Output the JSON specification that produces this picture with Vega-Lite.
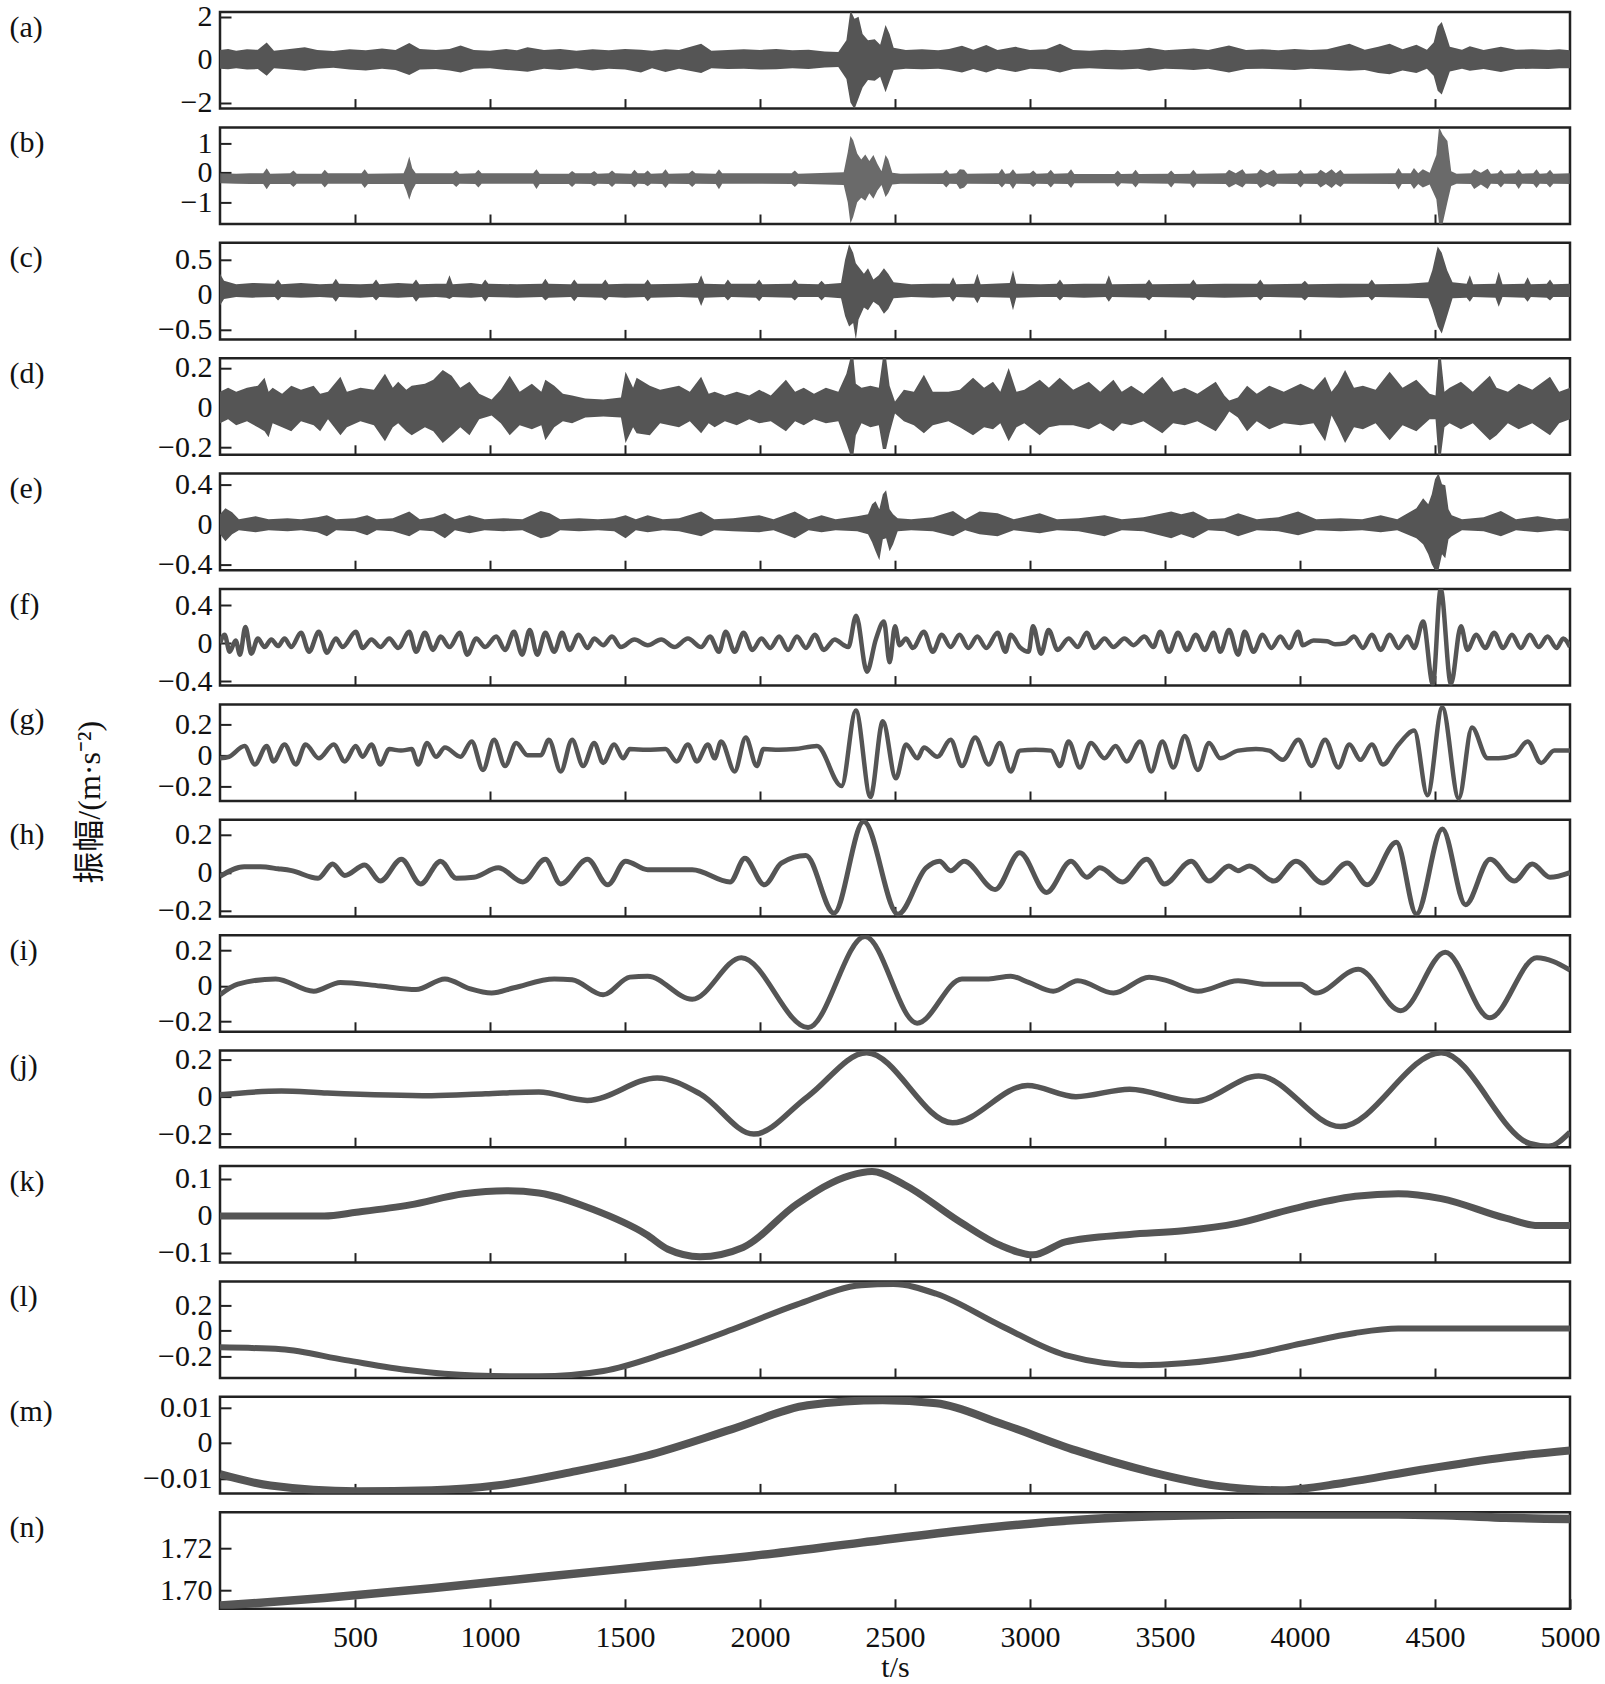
{
"$schema":"https://vega.github.io/schema/vega-lite/v6.json",
"background":"white",
"padding":{"left":7,"top":0,"right":4,"bottom":0},
"title":{"text":"振幅/(m·s⁻²)","orient":"left","anchor":"middle","angle":270,"baseline":"bottom","offset":-131,"dx":40,"font":"Liberation Serif, Noto Sans CJK SC","fontSize":32,"fontWeight":"normal","color":"#111"},
"config":{
"view":{"stroke":"#222","strokeWidth":2.5},
"axis":{"labelFont":"Liberation Serif","labelFontSize":30,"labelColor":"#111","tickColor":"#222","tickWidth":2,"domain":false,"grid":false,"labelOverlap":false,"labelFlush":false,"titleFont":"Liberation Serif","titleFontSize":30,"titleFontWeight":"normal","titleColor":"#111"},
"axisY":{"tickSize":-11,"labelPadding":19,"format":".2~f","titleAngle":0,"titleX":-211,"titleY":24,"titleAlign":"left","titleBaseline":"alphabetic"},
"axisX":{"tickSize":-10,"labelPadding":24,"format":"d"}
},
"spacing":18.4,
"bounds":"flush",
"datasets":{
"a":[{"t":0,"lo":-0.42,"hi":0.45},{"t":30,"lo":-0.45,"hi":0.5},{"t":60,"lo":-0.4,"hi":0.42},{"t":100,"lo":-0.46,"hi":0.48},{"t":140,"lo":-0.44,"hi":0.46},{"t":173,"lo":-0.75,"hi":0.8},{"t":200,"lo":-0.4,"hi":0.42},{"t":250,"lo":-0.45,"hi":0.48},{"t":314,"lo":-0.52,"hi":0.58},{"t":360,"lo":-0.42,"hi":0.45},{"t":420,"lo":-0.38,"hi":0.4},{"t":480,"lo":-0.46,"hi":0.48},{"t":540,"lo":-0.5,"hi":0.44},{"t":600,"lo":-0.42,"hi":0.52},{"t":650,"lo":-0.48,"hi":0.45},{"t":701,"lo":-0.72,"hi":0.78},{"t":740,"lo":-0.46,"hi":0.5},{"t":800,"lo":-0.44,"hi":0.45},{"t":850,"lo":-0.5,"hi":0.5},{"t":891,"lo":-0.6,"hi":0.66},{"t":940,"lo":-0.42,"hi":0.45},{"t":1000,"lo":-0.4,"hi":0.42},{"t":1060,"lo":-0.48,"hi":0.5},{"t":1100,"lo":-0.52,"hi":0.44},{"t":1139,"lo":-0.56,"hi":0.58},{"t":1200,"lo":-0.42,"hi":0.45},{"t":1260,"lo":-0.48,"hi":0.5},{"t":1320,"lo":-0.4,"hi":0.42},{"t":1380,"lo":-0.5,"hi":0.48},{"t":1440,"lo":-0.42,"hi":0.44},{"t":1500,"lo":-0.46,"hi":0.5},{"t":1559,"lo":-0.6,"hi":0.46},{"t":1600,"lo":-0.4,"hi":0.42},{"t":1650,"lo":-0.58,"hi":0.48},{"t":1700,"lo":-0.42,"hi":0.45},{"t":1782,"lo":-0.62,"hi":0.74},{"t":1820,"lo":-0.4,"hi":0.42},{"t":1880,"lo":-0.44,"hi":0.45},{"t":1940,"lo":-0.42,"hi":0.48},{"t":2000,"lo":-0.46,"hi":0.45},{"t":2060,"lo":-0.45,"hi":0.5},{"t":2120,"lo":-0.4,"hi":0.44},{"t":2180,"lo":-0.44,"hi":0.46},{"t":2240,"lo":-0.36,"hi":0.38},{"t":2290,"lo":-0.34,"hi":0.36},{"t":2320,"lo":-0.9,"hi":0.9},{"t":2335,"lo":-2.0,"hi":2.3},{"t":2350,"lo":-2.3,"hi":1.9},{"t":2365,"lo":-1.8,"hi":2.0},{"t":2380,"lo":-1.3,"hi":1.2},{"t":2400,"lo":-0.95,"hi":0.9},{"t":2425,"lo":-0.98,"hi":0.95},{"t":2445,"lo":-0.8,"hi":0.7},{"t":2465,"lo":-1.52,"hi":1.62},{"t":2480,"lo":-1.0,"hi":1.2},{"t":2495,"lo":-0.48,"hi":0.55},{"t":2540,"lo":-0.42,"hi":0.45},{"t":2600,"lo":-0.45,"hi":0.48},{"t":2660,"lo":-0.42,"hi":0.44},{"t":2700,"lo":-0.48,"hi":0.5},{"t":2748,"lo":-0.6,"hi":0.65},{"t":2790,"lo":-0.44,"hi":0.46},{"t":2838,"lo":-0.6,"hi":0.68},{"t":2880,"lo":-0.42,"hi":0.45},{"t":2946,"lo":-0.58,"hi":0.6},{"t":3000,"lo":-0.42,"hi":0.45},{"t":3060,"lo":-0.46,"hi":0.48},{"t":3111,"lo":-0.6,"hi":0.74},{"t":3160,"lo":-0.44,"hi":0.45},{"t":3220,"lo":-0.4,"hi":0.42},{"t":3280,"lo":-0.44,"hi":0.46},{"t":3340,"lo":-0.46,"hi":0.44},{"t":3400,"lo":-0.42,"hi":0.48},{"t":3441,"lo":-0.52,"hi":0.56},{"t":3500,"lo":-0.42,"hi":0.44},{"t":3560,"lo":-0.45,"hi":0.48},{"t":3606,"lo":-0.48,"hi":0.52},{"t":3660,"lo":-0.42,"hi":0.45},{"t":3737,"lo":-0.6,"hi":0.66},{"t":3800,"lo":-0.44,"hi":0.45},{"t":3860,"lo":-0.42,"hi":0.48},{"t":3920,"lo":-0.45,"hi":0.44},{"t":3980,"lo":-0.48,"hi":0.5},{"t":4040,"lo":-0.42,"hi":0.45},{"t":4100,"lo":-0.46,"hi":0.48},{"t":4183,"lo":-0.52,"hi":0.74},{"t":4240,"lo":-0.48,"hi":0.46},{"t":4290,"lo":-0.62,"hi":0.6},{"t":4332,"lo":-0.68,"hi":0.74},{"t":4380,"lo":-0.5,"hi":0.48},{"t":4431,"lo":-0.62,"hi":0.7},{"t":4470,"lo":-0.42,"hi":0.46},{"t":4495,"lo":-0.75,"hi":0.8},{"t":4510,"lo":-1.45,"hi":1.55},{"t":4525,"lo":-1.62,"hi":1.75},{"t":4540,"lo":-1.1,"hi":1.2},{"t":4555,"lo":-0.55,"hi":0.6},{"t":4600,"lo":-0.42,"hi":0.46},{"t":4629,"lo":-0.52,"hi":0.62},{"t":4680,"lo":-0.44,"hi":0.45},{"t":4744,"lo":-0.58,"hi":0.6},{"t":4800,"lo":-0.44,"hi":0.46},{"t":4860,"lo":-0.42,"hi":0.48},{"t":4920,"lo":-0.44,"hi":0.45},{"t":4960,"lo":-0.4,"hi":0.48},{"t":5000,"lo":-0.4,"hi":0.44}],
"b":[{"t":0,"lo":-0.36,"hi":-0.02},{"t":60,"lo":-0.37,"hi":-0.03},{"t":110,"lo":-0.38,"hi":-0.02},{"t":160,"lo":-0.38,"hi":-0.02},{"t":173,"lo":-0.56,"hi":0.15},{"t":186,"lo":-0.38,"hi":-0.03},{"t":260,"lo":-0.38,"hi":-0.02},{"t":272,"lo":-0.48,"hi":0.08},{"t":284,"lo":-0.37,"hi":-0.03},{"t":376,"lo":-0.37,"hi":-0.03},{"t":388,"lo":-0.5,"hi":0.1},{"t":400,"lo":-0.37,"hi":-0.02},{"t":524,"lo":-0.37,"hi":-0.02},{"t":536,"lo":-0.52,"hi":0.12},{"t":548,"lo":-0.38,"hi":-0.03},{"t":680,"lo":-0.38,"hi":-0.02},{"t":690,"lo":-0.6,"hi":0.2},{"t":701,"lo":-0.92,"hi":0.55},{"t":712,"lo":-0.6,"hi":0.15},{"t":725,"lo":-0.38,"hi":-0.02},{"t":863,"lo":-0.38,"hi":-0.02},{"t":875,"lo":-0.48,"hi":0.08},{"t":887,"lo":-0.37,"hi":-0.03},{"t":945,"lo":-0.38,"hi":-0.02},{"t":957,"lo":-0.5,"hi":0.1},{"t":969,"lo":-0.37,"hi":-0.02},{"t":1160,"lo":-0.37,"hi":-0.02},{"t":1172,"lo":-0.55,"hi":0.12},{"t":1184,"lo":-0.38,"hi":-0.03},{"t":1292,"lo":-0.38,"hi":-0.03},{"t":1304,"lo":-0.48,"hi":0.06},{"t":1316,"lo":-0.37,"hi":-0.02},{"t":1374,"lo":-0.38,"hi":-0.02},{"t":1386,"lo":-0.46,"hi":0.06},{"t":1398,"lo":-0.37,"hi":-0.03},{"t":1440,"lo":-0.38,"hi":-0.02},{"t":1452,"lo":-0.48,"hi":0.08},{"t":1464,"lo":-0.37,"hi":-0.02},{"t":1523,"lo":-0.38,"hi":-0.03},{"t":1535,"lo":-0.5,"hi":0.1},{"t":1547,"lo":-0.37,"hi":-0.02},{"t":1572,"lo":-0.38,"hi":-0.02},{"t":1584,"lo":-0.46,"hi":0.08},{"t":1596,"lo":-0.37,"hi":-0.03},{"t":1638,"lo":-0.38,"hi":-0.02},{"t":1650,"lo":-0.52,"hi":0.12},{"t":1662,"lo":-0.37,"hi":-0.03},{"t":1737,"lo":-0.38,"hi":-0.02},{"t":1749,"lo":-0.48,"hi":0.08},{"t":1761,"lo":-0.37,"hi":-0.02},{"t":1836,"lo":-0.38,"hi":-0.03},{"t":1848,"lo":-0.56,"hi":0.12},{"t":1860,"lo":-0.37,"hi":-0.02},{"t":2117,"lo":-0.38,"hi":-0.02},{"t":2129,"lo":-0.48,"hi":0.08},{"t":2141,"lo":-0.37,"hi":-0.03},{"t":2310,"lo":-0.42,"hi":0.02},{"t":2325,"lo":-1.0,"hi":0.7},{"t":2335,"lo":-1.72,"hi":1.25},{"t":2345,"lo":-1.5,"hi":1.1},{"t":2360,"lo":-1.0,"hi":0.65},{"t":2375,"lo":-0.85,"hi":0.45},{"t":2390,"lo":-0.95,"hi":0.62},{"t":2405,"lo":-0.7,"hi":0.4},{"t":2420,"lo":-0.88,"hi":0.6},{"t":2435,"lo":-0.6,"hi":0.3},{"t":2450,"lo":-0.42,"hi":0.05},{"t":2465,"lo":-0.82,"hi":0.6},{"t":2475,"lo":-0.7,"hi":0.45},{"t":2490,"lo":-0.4,"hi":0.0},{"t":2520,"lo":-0.37,"hi":-0.03},{"t":2678,"lo":-0.38,"hi":-0.02},{"t":2690,"lo":-0.5,"hi":0.1},{"t":2702,"lo":-0.37,"hi":-0.03},{"t":2728,"lo":-0.38,"hi":-0.02},{"t":2740,"lo":-0.55,"hi":0.12},{"t":2756,"lo":-0.5,"hi":0.1},{"t":2768,"lo":-0.37,"hi":-0.03},{"t":2884,"lo":-0.38,"hi":-0.02},{"t":2896,"lo":-0.5,"hi":0.14},{"t":2908,"lo":-0.37,"hi":-0.03},{"t":2925,"lo":-0.38,"hi":-0.02},{"t":2937,"lo":-0.55,"hi":0.12},{"t":2949,"lo":-0.37,"hi":-0.03},{"t":3000,"lo":-0.38,"hi":-0.02},{"t":3012,"lo":-0.48,"hi":0.08},{"t":3024,"lo":-0.37,"hi":-0.03},{"t":3065,"lo":-0.38,"hi":-0.02},{"t":3077,"lo":-0.5,"hi":0.1},{"t":3089,"lo":-0.37,"hi":-0.03},{"t":3140,"lo":-0.38,"hi":-0.02},{"t":3152,"lo":-0.52,"hi":0.12},{"t":3164,"lo":-0.36,"hi":-0.04},{"t":3313,"lo":-0.36,"hi":-0.04},{"t":3325,"lo":-0.48,"hi":0.08},{"t":3337,"lo":-0.36,"hi":-0.04},{"t":3379,"lo":-0.37,"hi":-0.03},{"t":3391,"lo":-0.5,"hi":0.1},{"t":3403,"lo":-0.36,"hi":-0.04},{"t":3511,"lo":-0.37,"hi":-0.03},{"t":3523,"lo":-0.5,"hi":0.08},{"t":3535,"lo":-0.36,"hi":-0.04},{"t":3593,"lo":-0.37,"hi":-0.03},{"t":3605,"lo":-0.52,"hi":0.1},{"t":3617,"lo":-0.37,"hi":-0.03},{"t":3725,"lo":-0.38,"hi":-0.02},{"t":3737,"lo":-0.5,"hi":0.1},{"t":3762,"lo":-0.38,"hi":-0.02},{"t":3787,"lo":-0.5,"hi":0.12},{"t":3799,"lo":-0.37,"hi":-0.03},{"t":3841,"lo":-0.38,"hi":-0.02},{"t":3853,"lo":-0.52,"hi":0.12},{"t":3878,"lo":-0.38,"hi":-0.02},{"t":3903,"lo":-0.48,"hi":0.1},{"t":3915,"lo":-0.37,"hi":-0.03},{"t":3990,"lo":-0.38,"hi":-0.02},{"t":4002,"lo":-0.5,"hi":0.1},{"t":4014,"lo":-0.37,"hi":-0.03},{"t":4064,"lo":-0.38,"hi":-0.02},{"t":4076,"lo":-0.5,"hi":0.1},{"t":4096,"lo":-0.38,"hi":-0.02},{"t":4117,"lo":-0.52,"hi":0.12},{"t":4133,"lo":-0.38,"hi":-0.02},{"t":4150,"lo":-0.48,"hi":0.1},{"t":4162,"lo":-0.37,"hi":-0.03},{"t":4353,"lo":-0.38,"hi":-0.02},{"t":4365,"lo":-0.57,"hi":0.16},{"t":4377,"lo":-0.38,"hi":-0.02},{"t":4410,"lo":-0.38,"hi":-0.02},{"t":4422,"lo":-0.55,"hi":0.16},{"t":4438,"lo":-0.38,"hi":-0.02},{"t":4455,"lo":-0.5,"hi":0.12},{"t":4480,"lo":-0.4,"hi":0.0},{"t":4505,"lo":-0.9,"hi":0.6},{"t":4515,"lo":-1.74,"hi":1.55},{"t":4528,"lo":-1.74,"hi":1.3},{"t":4546,"lo":-1.0,"hi":1.08},{"t":4560,"lo":-0.45,"hi":0.05},{"t":4580,"lo":-0.37,"hi":-0.03},{"t":4633,"lo":-0.38,"hi":-0.02},{"t":4645,"lo":-0.55,"hi":0.12},{"t":4670,"lo":-0.4,"hi":0.0},{"t":4695,"lo":-0.55,"hi":0.14},{"t":4707,"lo":-0.37,"hi":-0.03},{"t":4732,"lo":-0.38,"hi":-0.02},{"t":4744,"lo":-0.5,"hi":0.1},{"t":4756,"lo":-0.37,"hi":-0.03},{"t":4798,"lo":-0.38,"hi":-0.02},{"t":4810,"lo":-0.55,"hi":0.12},{"t":4822,"lo":-0.37,"hi":-0.03},{"t":4864,"lo":-0.38,"hi":-0.02},{"t":4876,"lo":-0.52,"hi":0.12},{"t":4888,"lo":-0.37,"hi":-0.03},{"t":4914,"lo":-0.38,"hi":-0.02},{"t":4926,"lo":-0.5,"hi":0.1},{"t":4938,"lo":-0.37,"hi":-0.03},{"t":5000,"lo":-0.38,"hi":-0.02}],
"c":[{"t":0,"lo":-0.15,"hi":0.3},{"t":15,"lo":-0.06,"hi":0.2},{"t":60,"lo":-0.03,"hi":0.15},{"t":120,"lo":-0.04,"hi":0.17},{"t":203,"lo":-0.03,"hi":0.16},{"t":215,"lo":-0.08,"hi":0.22},{"t":227,"lo":-0.03,"hi":0.15},{"t":300,"lo":-0.04,"hi":0.17},{"t":370,"lo":-0.03,"hi":0.15},{"t":417,"lo":-0.04,"hi":0.16},{"t":429,"lo":-0.1,"hi":0.23},{"t":441,"lo":-0.03,"hi":0.16},{"t":520,"lo":-0.04,"hi":0.15},{"t":566,"lo":-0.03,"hi":0.16},{"t":578,"lo":-0.08,"hi":0.22},{"t":590,"lo":-0.03,"hi":0.15},{"t":660,"lo":-0.04,"hi":0.17},{"t":714,"lo":-0.03,"hi":0.16},{"t":726,"lo":-0.1,"hi":0.22},{"t":738,"lo":-0.04,"hi":0.15},{"t":800,"lo":-0.03,"hi":0.16},{"t":838,"lo":-0.04,"hi":0.16},{"t":850,"lo":-0.06,"hi":0.28},{"t":862,"lo":-0.03,"hi":0.15},{"t":930,"lo":-0.04,"hi":0.17},{"t":970,"lo":-0.03,"hi":0.15},{"t":982,"lo":-0.1,"hi":0.22},{"t":994,"lo":-0.03,"hi":0.16},{"t":1100,"lo":-0.04,"hi":0.15},{"t":1193,"lo":-0.03,"hi":0.16},{"t":1205,"lo":-0.08,"hi":0.23},{"t":1217,"lo":-0.04,"hi":0.16},{"t":1300,"lo":-0.03,"hi":0.15},{"t":1312,"lo":-0.09,"hi":0.22},{"t":1324,"lo":-0.03,"hi":0.16},{"t":1415,"lo":-0.04,"hi":0.16},{"t":1427,"lo":-0.08,"hi":0.22},{"t":1439,"lo":-0.03,"hi":0.15},{"t":1500,"lo":-0.04,"hi":0.16},{"t":1572,"lo":-0.03,"hi":0.16},{"t":1584,"lo":-0.09,"hi":0.22},{"t":1596,"lo":-0.04,"hi":0.15},{"t":1700,"lo":-0.03,"hi":0.16},{"t":1770,"lo":-0.04,"hi":0.17},{"t":1782,"lo":-0.16,"hi":0.28},{"t":1794,"lo":-0.04,"hi":0.16},{"t":1869,"lo":-0.03,"hi":0.15},{"t":1881,"lo":-0.08,"hi":0.22},{"t":1893,"lo":-0.03,"hi":0.16},{"t":1985,"lo":-0.04,"hi":0.16},{"t":1997,"lo":-0.09,"hi":0.22},{"t":2009,"lo":-0.03,"hi":0.15},{"t":2117,"lo":-0.04,"hi":0.16},{"t":2129,"lo":-0.08,"hi":0.22},{"t":2141,"lo":-0.03,"hi":0.16},{"t":2216,"lo":-0.03,"hi":0.15},{"t":2228,"lo":-0.08,"hi":0.2},{"t":2240,"lo":-0.03,"hi":0.15},{"t":2300,"lo":-0.05,"hi":0.17},{"t":2315,"lo":-0.3,"hi":0.5},{"t":2330,"lo":-0.45,"hi":0.72},{"t":2345,"lo":-0.4,"hi":0.6},{"t":2355,"lo":-0.64,"hi":0.45},{"t":2365,"lo":-0.35,"hi":0.4},{"t":2385,"lo":-0.18,"hi":0.3},{"t":2400,"lo":-0.22,"hi":0.38},{"t":2420,"lo":-0.1,"hi":0.22},{"t":2440,"lo":-0.15,"hi":0.28},{"t":2459,"lo":-0.27,"hi":0.38},{"t":2475,"lo":-0.2,"hi":0.3},{"t":2495,"lo":-0.05,"hi":0.18},{"t":2560,"lo":-0.03,"hi":0.15},{"t":2640,"lo":-0.04,"hi":0.16},{"t":2703,"lo":-0.03,"hi":0.16},{"t":2715,"lo":-0.1,"hi":0.25},{"t":2727,"lo":-0.03,"hi":0.15},{"t":2793,"lo":-0.04,"hi":0.16},{"t":2805,"lo":-0.12,"hi":0.3},{"t":2817,"lo":-0.03,"hi":0.15},{"t":2925,"lo":-0.04,"hi":0.17},{"t":2937,"lo":-0.22,"hi":0.35},{"t":2949,"lo":-0.04,"hi":0.16},{"t":3040,"lo":-0.03,"hi":0.15},{"t":3099,"lo":-0.03,"hi":0.16},{"t":3111,"lo":-0.08,"hi":0.22},{"t":3123,"lo":-0.03,"hi":0.15},{"t":3200,"lo":-0.04,"hi":0.16},{"t":3280,"lo":-0.03,"hi":0.16},{"t":3292,"lo":-0.1,"hi":0.28},{"t":3304,"lo":-0.03,"hi":0.15},{"t":3429,"lo":-0.04,"hi":0.16},{"t":3441,"lo":-0.08,"hi":0.22},{"t":3453,"lo":-0.03,"hi":0.15},{"t":3593,"lo":-0.04,"hi":0.16},{"t":3605,"lo":-0.08,"hi":0.22},{"t":3617,"lo":-0.03,"hi":0.15},{"t":3720,"lo":-0.04,"hi":0.16},{"t":3841,"lo":-0.03,"hi":0.16},{"t":3853,"lo":-0.08,"hi":0.22},{"t":3865,"lo":-0.03,"hi":0.15},{"t":4006,"lo":-0.04,"hi":0.16},{"t":4018,"lo":-0.08,"hi":0.2},{"t":4030,"lo":-0.03,"hi":0.15},{"t":4150,"lo":-0.04,"hi":0.16},{"t":4254,"lo":-0.03,"hi":0.16},{"t":4266,"lo":-0.08,"hi":0.22},{"t":4278,"lo":-0.03,"hi":0.15},{"t":4400,"lo":-0.04,"hi":0.16},{"t":4475,"lo":-0.05,"hi":0.18},{"t":4490,"lo":-0.2,"hi":0.35},{"t":4510,"lo":-0.45,"hi":0.69},{"t":4525,"lo":-0.55,"hi":0.6},{"t":4545,"lo":-0.3,"hi":0.35},{"t":4565,"lo":-0.05,"hi":0.18},{"t":4617,"lo":-0.04,"hi":0.16},{"t":4629,"lo":-0.1,"hi":0.28},{"t":4641,"lo":-0.03,"hi":0.15},{"t":4724,"lo":-0.04,"hi":0.16},{"t":4736,"lo":-0.17,"hi":0.33},{"t":4750,"lo":-0.03,"hi":0.15},{"t":4831,"lo":-0.04,"hi":0.16},{"t":4843,"lo":-0.1,"hi":0.25},{"t":4855,"lo":-0.03,"hi":0.15},{"t":4914,"lo":-0.04,"hi":0.16},{"t":4926,"lo":-0.08,"hi":0.22},{"t":4938,"lo":-0.03,"hi":0.15},{"t":5000,"lo":-0.03,"hi":0.16}],
"d":[{"t":0,"lo":-0.08,"hi":0.08},{"t":30,"lo":-0.06,"hi":0.1},{"t":60,"lo":-0.09,"hi":0.08},{"t":100,"lo":-0.07,"hi":0.1},{"t":140,"lo":-0.1,"hi":0.11},{"t":165,"lo":-0.12,"hi":0.15},{"t":180,"lo":-0.15,"hi":0.08},{"t":195,"lo":-0.08,"hi":0.1},{"t":230,"lo":-0.1,"hi":0.07},{"t":264,"lo":-0.12,"hi":0.11},{"t":300,"lo":-0.07,"hi":0.09},{"t":347,"lo":-0.09,"hi":0.11},{"t":371,"lo":-0.12,"hi":0.07},{"t":400,"lo":-0.06,"hi":0.08},{"t":446,"lo":-0.14,"hi":0.155},{"t":470,"lo":-0.1,"hi":0.08},{"t":520,"lo":-0.07,"hi":0.1},{"t":570,"lo":-0.09,"hi":0.09},{"t":611,"lo":-0.17,"hi":0.17},{"t":640,"lo":-0.1,"hi":0.1},{"t":660,"lo":-0.08,"hi":0.13},{"t":690,"lo":-0.12,"hi":0.09},{"t":710,"lo":-0.14,"hi":0.11},{"t":759,"lo":-0.1,"hi":0.12},{"t":790,"lo":-0.12,"hi":0.14},{"t":825,"lo":-0.18,"hi":0.19},{"t":858,"lo":-0.14,"hi":0.16},{"t":890,"lo":-0.1,"hi":0.1},{"t":924,"lo":-0.14,"hi":0.13},{"t":960,"lo":-0.06,"hi":0.07},{"t":1006,"lo":-0.04,"hi":0.04},{"t":1040,"lo":-0.08,"hi":0.09},{"t":1073,"lo":-0.14,"hi":0.16},{"t":1110,"lo":-0.09,"hi":0.08},{"t":1155,"lo":-0.11,"hi":0.12},{"t":1190,"lo":-0.09,"hi":0.08},{"t":1205,"lo":-0.165,"hi":0.14},{"t":1238,"lo":-0.1,"hi":0.11},{"t":1270,"lo":-0.07,"hi":0.07},{"t":1304,"lo":-0.08,"hi":0.06},{"t":1353,"lo":-0.05,"hi":0.045},{"t":1420,"lo":-0.045,"hi":0.04},{"t":1485,"lo":-0.05,"hi":0.05},{"t":1502,"lo":-0.18,"hi":0.18},{"t":1530,"lo":-0.1,"hi":0.1},{"t":1543,"lo":-0.13,"hi":0.15},{"t":1592,"lo":-0.14,"hi":0.11},{"t":1630,"lo":-0.08,"hi":0.09},{"t":1700,"lo":-0.1,"hi":0.11},{"t":1740,"lo":-0.07,"hi":0.08},{"t":1782,"lo":-0.13,"hi":0.155},{"t":1810,"lo":-0.08,"hi":0.07},{"t":1832,"lo":-0.1,"hi":0.08},{"t":1870,"lo":-0.07,"hi":0.06},{"t":1914,"lo":-0.09,"hi":0.08},{"t":1960,"lo":-0.06,"hi":0.06},{"t":1997,"lo":-0.08,"hi":0.09},{"t":2040,"lo":-0.07,"hi":0.06},{"t":2096,"lo":-0.12,"hi":0.14},{"t":2130,"lo":-0.07,"hi":0.08},{"t":2162,"lo":-0.09,"hi":0.1},{"t":2200,"lo":-0.06,"hi":0.07},{"t":2244,"lo":-0.08,"hi":0.1},{"t":2290,"lo":-0.07,"hi":0.08},{"t":2320,"lo":-0.18,"hi":0.17},{"t":2335,"lo":-0.24,"hi":0.25},{"t":2346,"lo":-0.24,"hi":0.25},{"t":2355,"lo":-0.14,"hi":0.12},{"t":2376,"lo":-0.08,"hi":0.1},{"t":2409,"lo":-0.1,"hi":0.11},{"t":2440,"lo":-0.09,"hi":0.1},{"t":2455,"lo":-0.21,"hi":0.25},{"t":2467,"lo":-0.21,"hi":0.25},{"t":2480,"lo":-0.13,"hi":0.11},{"t":2500,"lo":-0.03,"hi":0.03},{"t":2533,"lo":-0.07,"hi":0.09},{"t":2570,"lo":-0.09,"hi":0.08},{"t":2607,"lo":-0.13,"hi":0.165},{"t":2640,"lo":-0.09,"hi":0.08},{"t":2698,"lo":-0.07,"hi":0.08},{"t":2740,"lo":-0.1,"hi":0.09},{"t":2789,"lo":-0.14,"hi":0.15},{"t":2830,"lo":-0.1,"hi":0.1},{"t":2863,"lo":-0.11,"hi":0.13},{"t":2890,"lo":-0.08,"hi":0.08},{"t":2921,"lo":-0.17,"hi":0.2},{"t":2950,"lo":-0.1,"hi":0.08},{"t":2979,"lo":-0.08,"hi":0.09},{"t":3036,"lo":-0.14,"hi":0.14},{"t":3070,"lo":-0.1,"hi":0.1},{"t":3110,"lo":-0.09,"hi":0.15},{"t":3160,"lo":-0.09,"hi":0.09},{"t":3218,"lo":-0.11,"hi":0.13},{"t":3260,"lo":-0.08,"hi":0.08},{"t":3309,"lo":-0.12,"hi":0.14},{"t":3340,"lo":-0.08,"hi":0.08},{"t":3375,"lo":-0.09,"hi":0.11},{"t":3420,"lo":-0.07,"hi":0.07},{"t":3490,"lo":-0.13,"hi":0.155},{"t":3530,"lo":-0.08,"hi":0.08},{"t":3573,"lo":-0.09,"hi":0.1},{"t":3620,"lo":-0.07,"hi":0.07},{"t":3688,"lo":-0.12,"hi":0.13},{"t":3720,"lo":-0.06,"hi":0.06},{"t":3738,"lo":-0.02,"hi":0.035},{"t":3770,"lo":-0.05,"hi":0.05},{"t":3804,"lo":-0.12,"hi":0.11},{"t":3840,"lo":-0.07,"hi":0.07},{"t":3886,"lo":-0.11,"hi":0.11},{"t":3940,"lo":-0.08,"hi":0.08},{"t":4002,"lo":-0.09,"hi":0.12},{"t":4050,"lo":-0.08,"hi":0.09},{"t":4093,"lo":-0.17,"hi":0.155},{"t":4117,"lo":-0.04,"hi":0.08},{"t":4140,"lo":-0.1,"hi":0.12},{"t":4167,"lo":-0.18,"hi":0.19},{"t":4200,"lo":-0.1,"hi":0.1},{"t":4233,"lo":-0.11,"hi":0.11},{"t":4280,"lo":-0.08,"hi":0.09},{"t":4332,"lo":-0.165,"hi":0.18},{"t":4380,"lo":-0.09,"hi":0.1},{"t":4431,"lo":-0.12,"hi":0.14},{"t":4480,"lo":-0.06,"hi":0.07},{"t":4502,"lo":-0.06,"hi":0.06},{"t":4512,"lo":-0.24,"hi":0.25},{"t":4522,"lo":-0.24,"hi":0.25},{"t":4535,"lo":-0.1,"hi":0.08},{"t":4554,"lo":-0.08,"hi":0.1},{"t":4596,"lo":-0.11,"hi":0.13},{"t":4640,"lo":-0.08,"hi":0.08},{"t":4703,"lo":-0.165,"hi":0.16},{"t":4728,"lo":-0.14,"hi":0.1},{"t":4770,"lo":-0.08,"hi":0.08},{"t":4810,"lo":-0.11,"hi":0.12},{"t":4860,"lo":-0.08,"hi":0.09},{"t":4926,"lo":-0.14,"hi":0.155},{"t":4960,"lo":-0.08,"hi":0.08},{"t":5000,"lo":-0.06,"hi":0.1}],
"e":[{"t":0,"lo":-0.1,"hi":0.1},{"t":20,"lo":-0.17,"hi":0.16},{"t":45,"lo":-0.1,"hi":0.12},{"t":70,"lo":-0.06,"hi":0.05},{"t":132,"lo":-0.08,"hi":0.08},{"t":180,"lo":-0.06,"hi":0.05},{"t":250,"lo":-0.07,"hi":0.06},{"t":300,"lo":-0.06,"hi":0.05},{"t":360,"lo":-0.08,"hi":0.07},{"t":396,"lo":-0.12,"hi":0.09},{"t":430,"lo":-0.06,"hi":0.05},{"t":500,"lo":-0.07,"hi":0.06},{"t":545,"lo":-0.11,"hi":0.09},{"t":580,"lo":-0.06,"hi":0.05},{"t":640,"lo":-0.07,"hi":0.06},{"t":701,"lo":-0.12,"hi":0.127},{"t":740,"lo":-0.06,"hi":0.05},{"t":790,"lo":-0.07,"hi":0.07},{"t":833,"lo":-0.14,"hi":0.11},{"t":870,"lo":-0.06,"hi":0.05},{"t":924,"lo":-0.09,"hi":0.09},{"t":980,"lo":-0.06,"hi":0.05},{"t":1050,"lo":-0.07,"hi":0.06},{"t":1120,"lo":-0.06,"hi":0.05},{"t":1188,"lo":-0.14,"hi":0.133},{"t":1221,"lo":-0.12,"hi":0.11},{"t":1260,"lo":-0.06,"hi":0.05},{"t":1330,"lo":-0.07,"hi":0.06},{"t":1400,"lo":-0.06,"hi":0.05},{"t":1460,"lo":-0.07,"hi":0.06},{"t":1502,"lo":-0.14,"hi":0.09},{"t":1540,"lo":-0.06,"hi":0.05},{"t":1584,"lo":-0.08,"hi":0.09},{"t":1640,"lo":-0.06,"hi":0.05},{"t":1700,"lo":-0.07,"hi":0.06},{"t":1782,"lo":-0.12,"hi":0.127},{"t":1830,"lo":-0.06,"hi":0.05},{"t":1900,"lo":-0.07,"hi":0.06},{"t":1997,"lo":-0.08,"hi":0.09},{"t":2050,"lo":-0.06,"hi":0.05},{"t":2129,"lo":-0.14,"hi":0.127},{"t":2180,"lo":-0.06,"hi":0.05},{"t":2228,"lo":-0.08,"hi":0.09},{"t":2280,"lo":-0.06,"hi":0.05},{"t":2360,"lo":-0.07,"hi":0.08},{"t":2400,"lo":-0.1,"hi":0.1},{"t":2415,"lo":-0.18,"hi":0.2},{"t":2428,"lo":-0.27,"hi":0.23},{"t":2442,"lo":-0.36,"hi":0.15},{"t":2455,"lo":-0.15,"hi":0.3},{"t":2467,"lo":-0.14,"hi":0.34},{"t":2480,"lo":-0.27,"hi":0.15},{"t":2493,"lo":-0.2,"hi":0.1},{"t":2510,"lo":-0.07,"hi":0.06},{"t":2560,"lo":-0.06,"hi":0.05},{"t":2640,"lo":-0.07,"hi":0.07},{"t":2715,"lo":-0.12,"hi":0.133},{"t":2760,"lo":-0.06,"hi":0.05},{"t":2813,"lo":-0.1,"hi":0.127},{"t":2880,"lo":-0.12,"hi":0.11},{"t":2940,"lo":-0.06,"hi":0.05},{"t":3036,"lo":-0.09,"hi":0.11},{"t":3100,"lo":-0.06,"hi":0.05},{"t":3180,"lo":-0.07,"hi":0.06},{"t":3276,"lo":-0.12,"hi":0.09},{"t":3340,"lo":-0.06,"hi":0.05},{"t":3420,"lo":-0.07,"hi":0.07},{"t":3523,"lo":-0.14,"hi":0.127},{"t":3560,"lo":-0.1,"hi":0.1},{"t":3605,"lo":-0.14,"hi":0.127},{"t":3660,"lo":-0.06,"hi":0.05},{"t":3720,"lo":-0.07,"hi":0.06},{"t":3771,"lo":-0.12,"hi":0.11},{"t":3840,"lo":-0.06,"hi":0.05},{"t":3920,"lo":-0.07,"hi":0.07},{"t":3993,"lo":-0.11,"hi":0.127},{"t":4060,"lo":-0.06,"hi":0.05},{"t":4150,"lo":-0.07,"hi":0.06},{"t":4230,"lo":-0.06,"hi":0.05},{"t":4299,"lo":-0.08,"hi":0.09},{"t":4360,"lo":-0.06,"hi":0.05},{"t":4431,"lo":-0.14,"hi":0.16},{"t":4456,"lo":-0.2,"hi":0.26},{"t":4475,"lo":-0.3,"hi":0.2},{"t":4488,"lo":-0.4,"hi":0.3},{"t":4500,"lo":-0.46,"hi":0.45},{"t":4513,"lo":-0.46,"hi":0.51},{"t":4526,"lo":-0.3,"hi":0.4},{"t":4538,"lo":-0.34,"hi":0.39},{"t":4550,"lo":-0.15,"hi":0.15},{"t":4562,"lo":-0.12,"hi":0.09},{"t":4600,"lo":-0.06,"hi":0.05},{"t":4680,"lo":-0.07,"hi":0.07},{"t":4744,"lo":-0.12,"hi":0.133},{"t":4800,"lo":-0.06,"hi":0.05},{"t":4880,"lo":-0.08,"hi":0.08},{"t":4950,"lo":-0.06,"hi":0.05},{"t":5000,"lo":-0.07,"hi":0.06}],
"f":[{"t":0,"v":0},{"t":17,"v":0.09},{"t":36,"v":-0.09},{"t":58,"v":0.03},{"t":74,"v":-0.12},{"t":94,"v":0.17},{"t":116,"v":-0.11},{"t":140,"v":0.05},{"t":165,"v":-0.04},{"t":190,"v":0.04},{"t":215,"v":-0.03},{"t":239,"v":0.05},{"t":264,"v":-0.04},{"t":300,"v":0.11},{"t":330,"v":-0.09},{"t":366,"v":0.12},{"t":396,"v":-0.1},{"t":429,"v":0.05},{"t":454,"v":-0.04},{"t":503,"v":0.12},{"t":528,"v":-0.05},{"t":561,"v":0.04},{"t":594,"v":-0.04},{"t":627,"v":0.05},{"t":660,"v":-0.05},{"t":701,"v":0.12},{"t":726,"v":-0.09},{"t":759,"v":0.11},{"t":789,"v":-0.07},{"t":817,"v":0.07},{"t":850,"v":-0.04},{"t":888,"v":0.11},{"t":916,"v":-0.12},{"t":949,"v":0.05},{"t":982,"v":-0.04},{"t":1023,"v":0.07},{"t":1056,"v":-0.07},{"t":1089,"v":0.12},{"t":1119,"v":-0.12},{"t":1147,"v":0.14},{"t":1175,"v":-0.12},{"t":1205,"v":0.11},{"t":1238,"v":-0.09},{"t":1267,"v":0.11},{"t":1295,"v":-0.07},{"t":1328,"v":0.09},{"t":1361,"v":-0.05},{"t":1386,"v":0.05},{"t":1419,"v":-0.02},{"t":1452,"v":0.07},{"t":1485,"v":-0.04},{"t":1535,"v":0.04},{"t":1584,"v":-0.02},{"t":1634,"v":0.04},{"t":1683,"v":-0.04},{"t":1733,"v":0.05},{"t":1782,"v":-0.04},{"t":1815,"v":0.07},{"t":1848,"v":-0.09},{"t":1873,"v":0.12},{"t":1906,"v":-0.09},{"t":1939,"v":0.11},{"t":1972,"v":-0.07},{"t":2005,"v":0.05},{"t":2038,"v":-0.05},{"t":2071,"v":0.07},{"t":2104,"v":-0.07},{"t":2137,"v":0.07},{"t":2170,"v":-0.05},{"t":2203,"v":0.09},{"t":2236,"v":-0.07},{"t":2277,"v":0.04},{"t":2310,"v":-0.02},{"t":2327,"v":-0.04},{"t":2356,"v":0.29},{"t":2396,"v":-0.3},{"t":2429,"v":0.04},{"t":2459,"v":0.23},{"t":2480,"v":-0.2},{"t":2500,"v":0.18},{"t":2517,"v":-0.02},{"t":2541,"v":0.05},{"t":2566,"v":-0.05},{"t":2607,"v":0.12},{"t":2640,"v":-0.09},{"t":2673,"v":0.09},{"t":2706,"v":-0.04},{"t":2739,"v":0.09},{"t":2772,"v":-0.05},{"t":2805,"v":0.07},{"t":2838,"v":-0.05},{"t":2880,"v":0.11},{"t":2909,"v":-0.09},{"t":2929,"v":0.09},{"t":2962,"v":-0.04},{"t":2995,"v":-0.09},{"t":3011,"v":0.18},{"t":3041,"v":-0.11},{"t":3069,"v":0.14},{"t":3102,"v":-0.07},{"t":3143,"v":0.05},{"t":3177,"v":-0.04},{"t":3210,"v":0.11},{"t":3239,"v":-0.05},{"t":3276,"v":0.05},{"t":3309,"v":-0.04},{"t":3350,"v":0.05},{"t":3383,"v":-0.02},{"t":3424,"v":0.07},{"t":3457,"v":-0.04},{"t":3482,"v":0.12},{"t":3515,"v":-0.09},{"t":3548,"v":0.11},{"t":3581,"v":-0.07},{"t":3614,"v":0.09},{"t":3647,"v":-0.07},{"t":3680,"v":0.11},{"t":3705,"v":-0.09},{"t":3737,"v":0.14},{"t":3771,"v":-0.12},{"t":3795,"v":0.12},{"t":3828,"v":-0.09},{"t":3861,"v":0.09},{"t":3894,"v":-0.05},{"t":3927,"v":0.07},{"t":3960,"v":-0.05},{"t":3993,"v":0.12},{"t":4010,"v":-0.02},{"t":4050,"v":0.03},{"t":4100,"v":0.02},{"t":4130,"v":-0.01},{"t":4167,"v":0.0},{"t":4200,"v":0.07},{"t":4233,"v":-0.05},{"t":4266,"v":0.09},{"t":4299,"v":-0.07},{"t":4332,"v":0.09},{"t":4365,"v":-0.05},{"t":4398,"v":0.07},{"t":4423,"v":-0.05},{"t":4456,"v":0.23},{"t":4492,"v":-0.43},{"t":4521,"v":0.57},{"t":4559,"v":-0.43},{"t":4596,"v":0.18},{"t":4620,"v":-0.07},{"t":4653,"v":0.09},{"t":4686,"v":-0.05},{"t":4719,"v":0.11},{"t":4752,"v":-0.05},{"t":4785,"v":0.09},{"t":4818,"v":-0.05},{"t":4851,"v":0.09},{"t":4884,"v":-0.04},{"t":4917,"v":0.07},{"t":4950,"v":-0.05},{"t":4975,"v":0.05},{"t":5000,"v":-0.04}],
"g":[{"t":0,"v":-0.02},{"t":33,"v":-0.01},{"t":91,"v":0.06},{"t":129,"v":-0.06},{"t":173,"v":0.06},{"t":198,"v":-0.04},{"t":239,"v":0.07},{"t":281,"v":-0.06},{"t":317,"v":0.07},{"t":366,"v":-0.02},{"t":421,"v":0.07},{"t":462,"v":-0.04},{"t":503,"v":0.06},{"t":528,"v":-0.01},{"t":561,"v":0.07},{"t":594,"v":-0.06},{"t":627,"v":0.04},{"t":670,"v":0.03},{"t":710,"v":0.04},{"t":734,"v":-0.06},{"t":767,"v":0.08},{"t":800,"v":-0.01},{"t":833,"v":0.05},{"t":891,"v":-0.01},{"t":932,"v":0.09},{"t":974,"v":-0.095},{"t":1015,"v":0.1},{"t":1056,"v":-0.07},{"t":1097,"v":0.08},{"t":1139,"v":0.0},{"t":1188,"v":0.0},{"t":1218,"v":0.1},{"t":1262,"v":-0.105},{"t":1304,"v":0.1},{"t":1345,"v":-0.07},{"t":1386,"v":0.08},{"t":1419,"v":-0.05},{"t":1460,"v":0.07},{"t":1493,"v":-0.02},{"t":1518,"v":0.04},{"t":1580,"v":0.035},{"t":1650,"v":0.04},{"t":1691,"v":-0.04},{"t":1733,"v":0.07},{"t":1766,"v":-0.04},{"t":1807,"v":0.07},{"t":1832,"v":-0.02},{"t":1856,"v":0.09},{"t":1906,"v":-0.105},{"t":1947,"v":0.115},{"t":1988,"v":-0.07},{"t":2013,"v":0.04},{"t":2070,"v":0.035},{"t":2129,"v":0.04},{"t":2211,"v":0.06},{"t":2302,"v":-0.2},{"t":2355,"v":0.29},{"t":2409,"v":-0.27},{"t":2455,"v":0.22},{"t":2503,"v":-0.15},{"t":2541,"v":0.07},{"t":2583,"v":-0.02},{"t":2607,"v":0.05},{"t":2657,"v":-0.01},{"t":2706,"v":0.1},{"t":2748,"v":-0.07},{"t":2797,"v":0.115},{"t":2847,"v":-0.06},{"t":2888,"v":0.08},{"t":2929,"v":-0.105},{"t":2962,"v":0.03},{"t":3020,"v":0.035},{"t":3078,"v":0.03},{"t":3111,"v":-0.07},{"t":3143,"v":0.09},{"t":3185,"v":-0.08},{"t":3226,"v":0.08},{"t":3276,"v":-0.02},{"t":3317,"v":0.06},{"t":3358,"v":-0.04},{"t":3408,"v":0.09},{"t":3449,"v":-0.105},{"t":3490,"v":0.09},{"t":3531,"v":-0.08},{"t":3573,"v":0.125},{"t":3622,"v":-0.095},{"t":3663,"v":0.08},{"t":3705,"v":-0.02},{"t":3771,"v":0.03},{"t":3837,"v":0.04},{"t":3886,"v":0.03},{"t":3936,"v":-0.03},{"t":3994,"v":0.1},{"t":4043,"v":-0.07},{"t":4093,"v":0.1},{"t":4142,"v":-0.08},{"t":4183,"v":0.07},{"t":4224,"v":-0.03},{"t":4266,"v":0.07},{"t":4307,"v":-0.06},{"t":4365,"v":0.07},{"t":4423,"v":0.16},{"t":4472,"v":-0.26},{"t":4527,"v":0.31},{"t":4588,"v":-0.28},{"t":4637,"v":0.18},{"t":4695,"v":-0.02},{"t":4736,"v":-0.02},{"t":4794,"v":0.0},{"t":4843,"v":0.09},{"t":4893,"v":-0.05},{"t":4942,"v":0.03},{"t":5000,"v":0.03}],
"h":[{"t":0,"v":-0.02},{"t":90,"v":0.03},{"t":150,"v":0.03},{"t":215,"v":0.02},{"t":265,"v":0.01},{"t":363,"v":-0.03},{"t":417,"v":0.045},{"t":462,"v":-0.015},{"t":536,"v":0.04},{"t":594,"v":-0.045},{"t":672,"v":0.07},{"t":743,"v":-0.06},{"t":817,"v":0.06},{"t":875,"v":-0.03},{"t":940,"v":-0.025},{"t":1031,"v":0.025},{"t":1122,"v":-0.05},{"t":1205,"v":0.07},{"t":1262,"v":-0.06},{"t":1361,"v":0.07},{"t":1436,"v":-0.065},{"t":1502,"v":0.06},{"t":1584,"v":0.015},{"t":1749,"v":0.015},{"t":1889,"v":-0.05},{"t":1944,"v":0.075},{"t":2016,"v":-0.065},{"t":2079,"v":0.05},{"t":2170,"v":0.09},{"t":2274,"v":-0.215},{"t":2384,"v":0.27},{"t":2511,"v":-0.22},{"t":2615,"v":0.025},{"t":2665,"v":0.06},{"t":2706,"v":0.01},{"t":2756,"v":0.06},{"t":2871,"v":-0.09},{"t":2962,"v":0.105},{"t":3061,"v":-0.105},{"t":3152,"v":0.06},{"t":3210,"v":-0.025},{"t":3259,"v":0.025},{"t":3342,"v":-0.05},{"t":3432,"v":0.07},{"t":3498,"v":-0.06},{"t":3597,"v":0.06},{"t":3663,"v":-0.045},{"t":3737,"v":0.035},{"t":3770,"v":0.01},{"t":3812,"v":0.035},{"t":3903,"v":-0.045},{"t":3985,"v":0.06},{"t":4084,"v":-0.055},{"t":4175,"v":0.05},{"t":4249,"v":-0.065},{"t":4357,"v":0.16},{"t":4431,"v":-0.22},{"t":4527,"v":0.23},{"t":4613,"v":-0.17},{"t":4704,"v":0.07},{"t":4794,"v":-0.045},{"t":4860,"v":0.045},{"t":4926,"v":-0.025},{"t":5000,"v":0.0}],
"i":[{"t":0,"v":-0.05},{"t":66,"v":0.01},{"t":206,"v":0.04},{"t":347,"v":-0.03},{"t":446,"v":0.02},{"t":594,"v":0.0},{"t":726,"v":-0.02},{"t":833,"v":0.04},{"t":924,"v":-0.015},{"t":1006,"v":-0.04},{"t":1089,"v":-0.01},{"t":1238,"v":0.04},{"t":1304,"v":0.035},{"t":1419,"v":-0.05},{"t":1518,"v":0.05},{"t":1584,"v":0.055},{"t":1749,"v":-0.075},{"t":1931,"v":0.16},{"t":2178,"v":-0.235},{"t":2389,"v":0.28},{"t":2582,"v":-0.21},{"t":2748,"v":0.04},{"t":2847,"v":0.04},{"t":2929,"v":0.055},{"t":2995,"v":0.02},{"t":3086,"v":-0.03},{"t":3177,"v":0.03},{"t":3309,"v":-0.04},{"t":3441,"v":0.05},{"t":3507,"v":0.03},{"t":3622,"v":-0.03},{"t":3771,"v":0.03},{"t":3870,"v":0.01},{"t":4002,"v":0.01},{"t":4059,"v":-0.04},{"t":4216,"v":0.095},{"t":4373,"v":-0.14},{"t":4538,"v":0.19},{"t":4703,"v":-0.18},{"t":4877,"v":0.16},{"t":5000,"v":0.09}],
"j":[{"t":0,"v":0.01},{"t":227,"v":0.03},{"t":386,"v":0.02},{"t":784,"v":0.005},{"t":983,"v":0.015},{"t":1181,"v":0.025},{"t":1360,"v":-0.02},{"t":1619,"v":0.1},{"t":1778,"v":0.015},{"t":1977,"v":-0.2},{"t":2176,"v":0.0},{"t":2395,"v":0.235},{"t":2713,"v":-0.14},{"t":2991,"v":0.06},{"t":3170,"v":0.0},{"t":3369,"v":0.04},{"t":3608,"v":-0.025},{"t":3847,"v":0.11},{"t":4150,"v":-0.16},{"t":4523,"v":0.235},{"t":4850,"v":-0.25},{"t":4920,"v":-0.265},{"t":5000,"v":-0.19}],
"k":[{"t":0,"v":0.0},{"t":386,"v":0.0},{"t":505,"v":0.01},{"t":704,"v":0.03},{"t":903,"v":0.06},{"t":1062,"v":0.068},{"t":1181,"v":0.062},{"t":1380,"v":0.018},{"t":1579,"v":-0.05},{"t":1659,"v":-0.09},{"t":1778,"v":-0.11},{"t":1937,"v":-0.085},{"t":2136,"v":0.032},{"t":2335,"v":0.11},{"t":2415,"v":0.12},{"t":2534,"v":0.085},{"t":2733,"v":-0.012},{"t":2892,"v":-0.08},{"t":3011,"v":-0.105},{"t":3131,"v":-0.07},{"t":3369,"v":-0.05},{"t":3568,"v":-0.04},{"t":3767,"v":-0.02},{"t":3966,"v":0.018},{"t":4205,"v":0.053},{"t":4364,"v":0.06},{"t":4523,"v":0.047},{"t":4762,"v":-0.006},{"t":4881,"v":-0.026},{"t":5000,"v":-0.026}],
"l":[{"t":0,"v":-0.13},{"t":227,"v":-0.145},{"t":465,"v":-0.23},{"t":704,"v":-0.31},{"t":943,"v":-0.35},{"t":1181,"v":-0.357},{"t":1420,"v":-0.315},{"t":1659,"v":-0.17},{"t":1897,"v":0.01},{"t":2136,"v":0.205},{"t":2375,"v":0.357},{"t":2494,"v":0.366},{"t":2653,"v":0.29},{"t":2892,"v":0.04},{"t":3131,"v":-0.19},{"t":3409,"v":-0.27},{"t":3568,"v":-0.255},{"t":3807,"v":-0.19},{"t":4006,"v":-0.1},{"t":4205,"v":-0.017},{"t":4364,"v":0.017},{"t":4563,"v":0.017},{"t":5000,"v":0.017}],
"m":[{"t":0,"v":-0.0088},{"t":187,"v":-0.012},{"t":505,"v":-0.0136},{"t":784,"v":-0.0133},{"t":1022,"v":-0.012},{"t":1301,"v":-0.0082},{"t":1579,"v":-0.0036},{"t":1897,"v":0.0039},{"t":2176,"v":0.0106},{"t":2454,"v":0.012},{"t":2653,"v":0.0112},{"t":2892,"v":0.0055},{"t":3170,"v":-0.0021},{"t":3449,"v":-0.0082},{"t":3688,"v":-0.012},{"t":3926,"v":-0.0133},{"t":4165,"v":-0.0112},{"t":4443,"v":-0.0076},{"t":4762,"v":-0.004},{"t":5000,"v":-0.0021}],
"n":[{"t":0,"v":1.6928},{"t":386,"v":1.6964},{"t":784,"v":1.701},{"t":1181,"v":1.7062},{"t":1579,"v":1.7113},{"t":1977,"v":1.7164},{"t":2375,"v":1.7226},{"t":2773,"v":1.7287},{"t":3170,"v":1.7333},{"t":3568,"v":1.7354},{"t":3966,"v":1.7359},{"t":4364,"v":1.7359},{"t":4563,"v":1.7354},{"t":4762,"v":1.7344},{"t":5000,"v":1.7338}]
},
"vconcat":[
{"width":1350,"height":96.6,"data":{"name":"a"},"mark":{"type":"area","color":"#555555","clip":true},"encoding":{"x":{"field":"t","type":"quantitative","scale":{"domain":[0,5000],"nice":false,"zero":false},"axis":{"values":[500,1000,1500,2000,2500,3000,3500,4000,4500],"labels":false,"title":null}},"y":{"field":"hi","type":"quantitative","scale":{"domain":[-2.28,2.22],"nice":false,"zero":false},"axis":{"values":[-2,0,2],"title":"(a)"}},"y2":{"field":"lo"}}},
{"width":1350,"height":96.6,"data":{"name":"b"},"mark":{"type":"area","color":"#5a5a5a","opacity":0.9,"clip":true},"encoding":{"x":{"field":"t","type":"quantitative","scale":{"domain":[0,5000],"nice":false,"zero":false},"axis":{"values":[500,1000,1500,2000,2500,3000,3500,4000,4500],"labels":false,"title":null}},"y":{"field":"hi","type":"quantitative","scale":{"domain":[-1.74,1.54],"nice":false,"zero":false},"axis":{"values":[-1,0,1],"title":"(b)"}},"y2":{"field":"lo"}}},
{"width":1350,"height":96.6,"data":{"name":"c"},"mark":{"type":"area","color":"#555555","clip":true},"encoding":{"x":{"field":"t","type":"quantitative","scale":{"domain":[0,5000],"nice":false,"zero":false},"axis":{"values":[500,1000,1500,2000,2500,3000,3500,4000,4500],"labels":false,"title":null}},"y":{"field":"hi","type":"quantitative","scale":{"domain":[-0.635,0.742],"nice":false,"zero":false},"axis":{"values":[-0.5,0,0.5],"title":"(c)"}},"y2":{"field":"lo"}}},
{"width":1350,"height":96.6,"data":{"name":"d"},"mark":{"type":"area","color":"#555555","clip":true},"encoding":{"x":{"field":"t","type":"quantitative","scale":{"domain":[0,5000],"nice":false,"zero":false},"axis":{"values":[500,1000,1500,2000,2500,3000,3500,4000,4500],"labels":false,"title":null}},"y":{"field":"hi","type":"quantitative","scale":{"domain":[-0.239,0.249],"nice":false,"zero":false},"axis":{"values":[-0.2,0,0.2],"title":"(d)"}},"y2":{"field":"lo"}}},
{"width":1350,"height":96.6,"data":{"name":"e"},"mark":{"type":"area","color":"#555555","clip":true},"encoding":{"x":{"field":"t","type":"quantitative","scale":{"domain":[0,5000],"nice":false,"zero":false},"axis":{"values":[500,1000,1500,2000,2500,3000,3500,4000,4500],"labels":false,"title":null}},"y":{"field":"hi","type":"quantitative","scale":{"domain":[-0.46,0.506],"nice":false,"zero":false},"axis":{"values":[-0.4,0,0.4],"title":"(e)"}},"y2":{"field":"lo"}}},
{"width":1350,"height":96.6,"data":{"name":"f"},"mark":{"type":"line","color":"#555555","strokeWidth":4.5,"interpolate":"monotone","clip":true},"encoding":{"x":{"field":"t","type":"quantitative","scale":{"domain":[0,5000],"nice":false,"zero":false},"axis":{"values":[500,1000,1500,2000,2500,3000,3500,4000,4500],"labels":false,"title":null}},"y":{"field":"v","type":"quantitative","scale":{"domain":[-0.446,0.571],"nice":false,"zero":false},"axis":{"values":[-0.4,0,0.4],"title":"(f)"}}}},
{"width":1350,"height":96.6,"data":{"name":"g"},"mark":{"type":"line","color":"#555555","strokeWidth":4.5,"interpolate":"monotone","clip":true},"encoding":{"x":{"field":"t","type":"quantitative","scale":{"domain":[0,5000],"nice":false,"zero":false},"axis":{"values":[500,1000,1500,2000,2500,3000,3500,4000,4500],"labels":false,"title":null}},"y":{"field":"v","type":"quantitative","scale":{"domain":[-0.297,0.33],"nice":false,"zero":false},"axis":{"values":[-0.2,0,0.2],"title":"(g)"}}}},
{"width":1350,"height":96.6,"data":{"name":"h"},"mark":{"type":"line","color":"#555555","strokeWidth":5,"interpolate":"monotone","clip":true},"encoding":{"x":{"field":"t","type":"quantitative","scale":{"domain":[0,5000],"nice":false,"zero":false},"axis":{"values":[500,1000,1500,2000,2500,3000,3500,4000,4500],"labels":false,"title":null}},"y":{"field":"v","type":"quantitative","scale":{"domain":[-0.232,0.279],"nice":false,"zero":false},"axis":{"values":[-0.2,0,0.2],"title":"(h)"}}}},
{"width":1350,"height":96.6,"data":{"name":"i"},"mark":{"type":"line","color":"#555555","strokeWidth":5,"interpolate":"monotone","clip":true},"encoding":{"x":{"field":"t","type":"quantitative","scale":{"domain":[0,5000],"nice":false,"zero":false},"axis":{"values":[500,1000,1500,2000,2500,3000,3500,4000,4500],"labels":false,"title":null}},"y":{"field":"v","type":"quantitative","scale":{"domain":[-0.259,0.287],"nice":false,"zero":false},"axis":{"values":[-0.2,0,0.2],"title":"(i)"}}}},
{"width":1350,"height":96.6,"data":{"name":"j"},"mark":{"type":"line","color":"#555555","strokeWidth":5.5,"interpolate":"monotone","clip":true},"encoding":{"x":{"field":"t","type":"quantitative","scale":{"domain":[0,5000],"nice":false,"zero":false},"axis":{"values":[500,1000,1500,2000,2500,3000,3500,4000,4500],"labels":false,"title":null}},"y":{"field":"v","type":"quantitative","scale":{"domain":[-0.27,0.246],"nice":false,"zero":false},"axis":{"values":[-0.2,0,0.2],"title":"(j)"}}}},
{"width":1350,"height":96.6,"data":{"name":"k"},"mark":{"type":"line","color":"#555555","strokeWidth":7,"interpolate":"monotone","clip":true},"encoding":{"x":{"field":"t","type":"quantitative","scale":{"domain":[0,5000],"nice":false,"zero":false},"axis":{"values":[500,1000,1500,2000,2500,3000,3500,4000,4500],"labels":false,"title":null}},"y":{"field":"v","type":"quantitative","scale":{"domain":[-0.126,0.135],"nice":false,"zero":false},"axis":{"values":[-0.1,0,0.1],"title":"(k)"}}}},
{"width":1350,"height":96.6,"data":{"name":"l"},"mark":{"type":"line","color":"#555555","strokeWidth":6,"interpolate":"monotone","clip":true},"encoding":{"x":{"field":"t","type":"quantitative","scale":{"domain":[0,5000],"nice":false,"zero":false},"axis":{"values":[500,1000,1500,2000,2500,3000,3500,4000,4500],"labels":false,"title":null}},"y":{"field":"v","type":"quantitative","scale":{"domain":[-0.37,0.387],"nice":false,"zero":false},"axis":{"values":[-0.2,0,0.2],"title":"(l)"}}}},
{"width":1350,"height":96.6,"data":{"name":"m"},"mark":{"type":"line","color":"#555555","strokeWidth":8,"interpolate":"monotone","clip":true},"encoding":{"x":{"field":"t","type":"quantitative","scale":{"domain":[0,5000],"nice":false,"zero":false},"axis":{"values":[500,1000,1500,2000,2500,3000,3500,4000,4500],"labels":false,"title":null}},"y":{"field":"v","type":"quantitative","scale":{"domain":[-0.0142,0.013],"nice":false,"zero":false},"axis":{"values":[-0.01,0,0.01],"title":"(m)"}}}},
{"width":1350,"height":96.6,"data":{"name":"n"},"mark":{"type":"line","color":"#555555","strokeWidth":8.5,"interpolate":"monotone","clip":true},"encoding":{"x":{"field":"t","type":"quantitative","scale":{"domain":[0,5000],"nice":false,"zero":false},"axis":{"values":[500,1000,1500,2000,2500,3000,3500,4000,4500,5000],"title":"t/s","titleX":675,"titleY":68,"titleAlign":"center","titleBaseline":"alphabetic","titleAngle":0}},"y":{"field":"v","type":"quantitative","scale":{"domain":[1.6913,1.737],"nice":false,"zero":false},"axis":{"values":[1.7,1.72],"format":".2f","title":"(n)"}}}}
]
}
